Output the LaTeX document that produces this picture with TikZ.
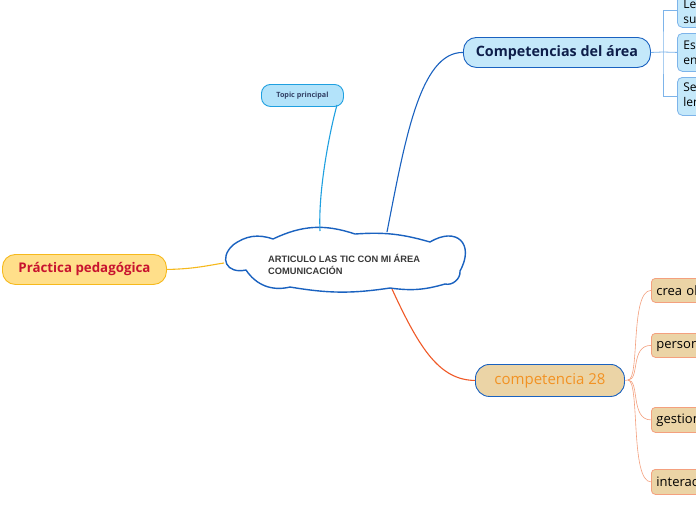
\documentclass[tikz,border=0pt]{standalone}
\usepackage{fontspec}
\setmainfont{Open Sans}
\newfontfamily\arialf{Liberation Sans}
\definecolor{lblue}{HTML}{C4E8FA}
\definecolor{tblue}{HTML}{B3E3FA}
\definecolor{dblue}{HTML}{1A62C0}
\definecolor{sblue}{HTML}{1FA0E0}
\definecolor{bblue}{HTML}{7DB4EA}
\definecolor{tan}{HTML}{EBD4A6}
\definecolor{salmon}{HTML}{F4A07E}
\definecolor{yel}{HTML}{FFDF8A}
\definecolor{yelb}{HTML}{F6B91C}
\definecolor{crim}{HTML}{C8132F}
\definecolor{navy}{HTML}{0E1E4A}
\definecolor{orng}{HTML}{F29223}
\definecolor{redo}{HTML}{F05A28}
\tikzset{
  pill/.style={rounded corners=12pt, draw, line width=0.9pt, inner sep=0pt, anchor=north west},
  sbox/.style={rounded corners=4pt, draw=salmon, fill=tan, line width=0.8pt, anchor=north west, minimum width=80pt, inner sep=0pt, text width=76pt, align=left},
  bbox/.style={rounded corners=5pt, draw=bblue, fill=lblue, line width=0.8pt, anchor=north west, minimum width=60pt, inner sep=0pt, text width=56pt, align=left},
  conn/.style={line width=1.1pt}
}
\begin{document}
\begin{tikzpicture}[x=1pt,y=-1pt]
\useasboundingbox[fill=white] (0,0) rectangle (696,520);
% cloud outline
\draw[draw=dblue, line width=1.4pt, fill=white, line join=round]
  (233,245) to[bend left=28] (273,239)
  to[bend left=22] (355,234)
  to[bend left=10] (430,242)
  to[bend left=75, looseness=1.9] (460,271)
  to[bend left=55] (445,284)
  to[bend left=12] (390,288)
  to[bend left=9] (290,287)
  to[bend left=35] (246,270)
  to[bend left=75, looseness=1.8] cycle;
\node[anchor=west, font=\arialf\bfseries\fontsize{9.3}{12.5}\selectfont, text=black!78, align=left, inner sep=0pt] (ctext) at (268,264.5) {ARTICULO LAS TIC CON MI ÁREA\\COMUNICACIÓN};
% topic principal
\node[pill, rounded corners=9pt, draw=sblue, fill=tblue, minimum width=82pt, minimum height=22pt, font=\bfseries\fontsize{7.2}{8}\selectfont, text=navy!85] (topic) at (261,84) {Topic principal};
% competencias del area
\node[pill, rounded corners=13pt, draw=dblue, fill=lblue, minimum width=187pt, minimum height=30pt, font=\bfseries\fontsize{14.3}{16}\selectfont, text=navy] (comp) at (463,37) {Competencias del área};
% practica pedagogica
\node[pill, rounded corners=13pt, draw=yelb, fill=yel, minimum width=164pt, minimum height=30pt, font=\bfseries\fontsize{13.3}{15}\selectfont, text=crim] (prac) at (2,254) {Práctica pedagógica};
% competencia 28
\node[pill, rounded corners=14pt, draw=dblue, fill=tan, minimum width=149pt, minimum height=32pt, font=\fontsize{15}{17}\selectfont, text=orng] (c28) at (475,364) {competencia 28};
% sub boxes
\node[sbox, minimum height=24pt, font=\fontsize{13}{15}\selectfont] (s1) at (651,278) {\hspace*{3pt}crea ob};
\node[sbox, minimum height=24pt, font=\fontsize{13}{15}\selectfont] (s2) at (651,333) {\hspace*{3pt}personal};
\node[sbox, minimum height=25pt, font=\fontsize{13}{15}\selectfont] (s3) at (651,407) {\hspace*{3pt}gestiona};
\node[sbox, minimum height=25pt, font=\fontsize{13}{15}\selectfont] (s4) at (651,469) {\hspace*{3pt}interactúa};
% blue boxes top right
\node[bbox, minimum height=32pt, font=\fontsize{12}{15}\selectfont] (b1) at (677,-5) {\hspace*{4pt}Lee\\\hspace*{4pt}sus};
\node[bbox, minimum height=38pt, font=\fontsize{12}{15}\selectfont] (b2) at (677,33) {\hspace*{4pt}Escribe\\\hspace*{4pt}en};
\node[bbox, minimum height=38pt, font=\fontsize{12}{15}\selectfont] (b3) at (677,77) {\hspace*{4pt}Se\\\hspace*{4pt}lengua};
% connection coordinates
\coordinate (ctop1) at (320,231);
\coordinate (ctop2) at (387,232);
\coordinate (cbot) at (392,289);
\coordinate (cleft) at (224,263);
\coordinate (tb) at (337,105);
\coordinate (fan) at (628,380);
\coordinate (brk) at (663,52);
% connectors
\draw[conn, draw=sblue] (tb) .. controls (330,130) and (318,190) .. (ctop1);
\draw[conn, draw=dblue] (ctop2) .. controls (405,140) and (420,52) .. (comp.west);
\draw[conn, draw=yelb] (prac.east) .. controls (195,269) and (210,265) .. (cleft);
\draw[conn, draw=redo] (cbot) .. controls (420,350) and (440,380) .. (c28.west);
\draw[line width=0.6pt, draw=salmon] (c28.east) -- (fan);
\foreach \b in {s1,s2,s3,s4}{
  \draw[line width=0.6pt, draw=salmon] (fan) .. controls (640,380) and (630,0|-\b.west) .. (\b.west);
}
\draw[line width=0.8pt, draw=bblue] (comp.east) -- (brk);
\draw[line width=0.8pt, draw=bblue] (b1.west |- 0,10) -| (brk) |- (b3.west);
\draw[line width=0.8pt, draw=bblue] (brk) -- (b2.west);
\end{tikzpicture}
\end{document}
